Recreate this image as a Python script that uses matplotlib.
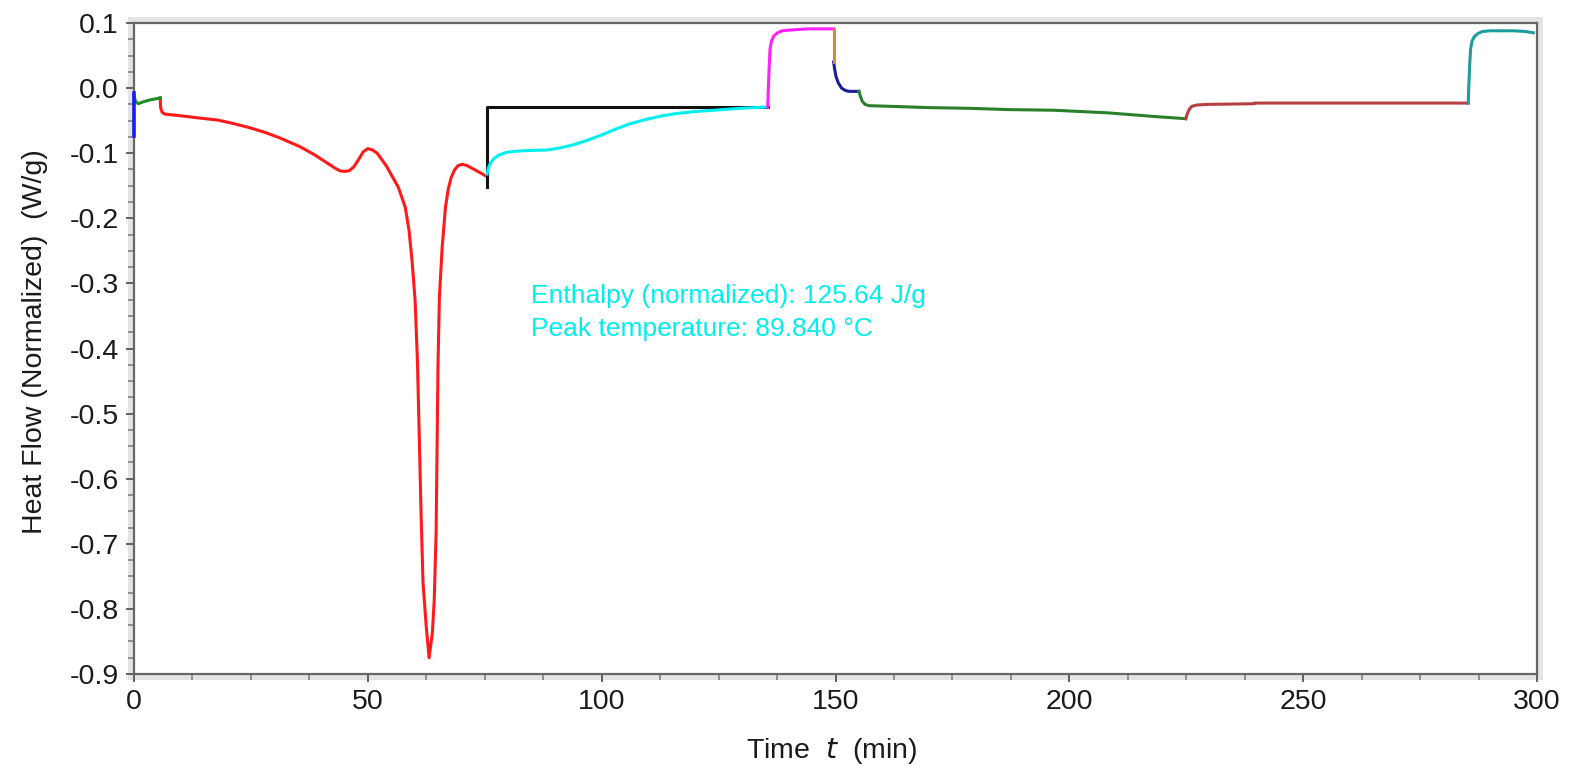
import matplotlib
matplotlib.use("Agg")
import matplotlib.pyplot as plt
from matplotlib.patches import Rectangle
from matplotlib.ticker import MultipleLocator, FixedLocator

plt.rcParams['font.family'] = ['Liberation Sans', 'DejaVu Sans']

# ---- data (time in min, heat flow in W/g) ----
blue_t = [0.0, 0.0]
blue_y = [-0.0075, -0.0736]

green1_t = [0.0, 0.3, 0.9, 2.0, 3.5, 5.0, 5.6]
green1_y = [-0.011, -0.020, -0.024, -0.021, -0.018, -0.016, -0.015]

red_t = [5.6, 5.7, 6.0, 6.6, 8.0, 10.5, 14.0, 17.8, 21.0, 24.8, 28.0, 31.0, 35.5, 38.5,
         41.3, 43.0, 44.0, 45.0, 46.0, 47.0, 48.0, 49.0, 50.0, 51.0, 52.0, 53.0, 54.0,
         55.0, 56.5, 58.0, 58.8, 59.5, 60.1, 60.6, 61.0, 61.4, 61.8, 62.5, 63.1, 63.8,
         64.2, 64.6, 64.8, 65.0, 65.3, 65.9, 66.6, 67.2, 67.8, 68.5, 69.3, 70.2, 71.2,
         72.5, 74.0, 75.5]
red_y = [-0.015, -0.030, -0.037, -0.040, -0.041, -0.043, -0.046, -0.049, -0.054, -0.061,
         -0.068, -0.076, -0.090, -0.102, -0.115, -0.123, -0.127, -0.128, -0.127, -0.121,
         -0.110, -0.098, -0.093, -0.095, -0.100, -0.110, -0.120, -0.133, -0.152, -0.183,
         -0.218, -0.269, -0.325, -0.418, -0.536, -0.659, -0.760, -0.828, -0.875, -0.837,
         -0.786, -0.683, -0.556, -0.428, -0.321, -0.244, -0.183, -0.155, -0.138, -0.126,
         -0.119, -0.117, -0.119, -0.124, -0.130, -0.136]

base_t = [75.5, 75.5, 75.5, 135.5]
base_y = [-0.152, -0.136, -0.029, -0.029]

cyan_t = [75.5, 75.8, 76.3, 77.0, 78.0, 79.5, 81.5, 84.0, 88.4, 91.0, 94.0, 97.0, 100.0,
          103.0, 106.0, 109.0, 112.6, 116.0, 120.0, 124.0, 129.7, 135.5]
cyan_y = [-0.132, -0.122, -0.114, -0.108, -0.103, -0.099, -0.097, -0.096, -0.095, -0.092,
          -0.087, -0.080, -0.072, -0.063, -0.055, -0.049, -0.043, -0.039, -0.036, -0.034,
          -0.031, -0.029]

magenta_t = [135.5, 135.6, 135.8, 136.0, 136.3, 136.8, 137.6, 138.6, 140.0, 144.0, 149.6]
magenta_y = [-0.029, -0.010, 0.030, 0.060, 0.072, 0.080, 0.085, 0.088, 0.089, 0.091, 0.091]

orange_t = [149.6, 149.6]
orange_y = [0.091, 0.040]

navy_t = [149.6, 149.8, 150.1, 150.6, 151.3, 152.2, 153.0, 155.0]
navy_y = [0.040, 0.030, 0.018, 0.008, 0.000, -0.004, -0.005, -0.005]

green2_t = [155.0, 155.3, 155.7, 156.3, 157.2, 161.8, 170.0, 178.3, 187.0, 196.7, 208.2,
            218.9, 224.9]
green2_y = [-0.005, -0.012, -0.020, -0.025, -0.027, -0.028, -0.030, -0.031, -0.033, -0.034,
            -0.038, -0.044, -0.047]

brown_t = [224.9, 225.2, 225.6, 226.2, 227.2, 229.6, 239.5, 239.6, 260.0, 285.3]
brown_y = [-0.047, -0.040, -0.033, -0.028, -0.026, -0.025, -0.024, -0.023, -0.023, -0.023]

teal_t = [285.3, 285.4, 285.6, 285.8, 286.1, 286.6, 287.4, 288.4, 290.0, 295.0, 297.5, 299.2]
teal_y = [-0.023, 0.000, 0.035, 0.060, 0.072, 0.079, 0.084, 0.087, 0.088, 0.088, 0.087, 0.085]

annot_lines = ["Enthalpy (normalized): 125.64 J/g", "Peak temperature: 89.840 \u00b0C"]
x_ticks = [0, 50, 100, 150, 200, 250, 300]
y_ticks = [0.1, 0.0, -0.1, -0.2, -0.3, -0.4, -0.5, -0.6, -0.7, -0.8, -0.9]
y_ticklabels = ["0.1", "0.0", "-0.1", "-0.2", "-0.3", "-0.4", "-0.5", "-0.6", "-0.7", "-0.8", "-0.9"]

# ---- figure ----
W, H = 1576, 766
fig = plt.figure(figsize=(W / 100, H / 100), dpi=100)
left, right = 134 / W, 1537 / W
bottom, top = 1 - 674 / H, 1 - 23 / H
ax = fig.add_axes([left, bottom, right - left, top - bottom])
ax.set_zorder(2)

# light gray frame shadow
pad_x, pad_y = 6 / W, 6 / H
shadow = Rectangle((left - pad_x, bottom - pad_y), (right - left) + 2 * pad_x,
                   (top - bottom) + 2 * pad_y, transform=fig.transFigure,
                   facecolor='#e4e4e4', edgecolor='none', zorder=-5)
fig.patches.append(shadow)
ax.set_facecolor('white')

lw = 2.2
ax.plot(red_t, red_y, color='#ff1a1a', lw=lw, zorder=3)
ax.plot(green1_t, green1_y, color='#1f8f1f', lw=lw, zorder=4, clip_on=False)
ax.plot(blue_t, blue_y, color='#1a1aff', lw=lw + 0.4, zorder=5, clip_on=False)
ax.plot(base_t, base_y, color='#111111', lw=lw, zorder=3)
ax.plot(cyan_t, cyan_y, color='#00f0f0', lw=lw, zorder=3)
ax.plot(magenta_t, magenta_y, color='#ff20ff', lw=lw, zorder=3)
ax.plot(orange_t, orange_y, color='#d68a3c', lw=lw, zorder=4)
ax.plot(navy_t, navy_y, color='#1c1c9a', lw=lw, zorder=3)
ax.plot(green2_t, green2_y, color='#2a7f2a', lw=lw, zorder=3)
ax.plot(brown_t, brown_y, color='#b5403f', lw=lw, zorder=3)
ax.plot(teal_t, teal_y, color='#1c9c9c', lw=lw, zorder=3)

ax.text(0.283, 0.555, annot_lines[0] + "\n" + annot_lines[1], transform=ax.transAxes,
        color='#00eeee', fontsize=19, va='center', ha='left', linespacing=1.45)

ax.set_xlim(0, 300)
ax.set_ylim(-0.9, 0.1)
ax.xaxis.set_major_locator(FixedLocator(x_ticks))
ax.xaxis.set_minor_locator(MultipleLocator(12.5))
ax.yaxis.set_major_locator(FixedLocator(y_ticks))
ax.set_yticklabels(y_ticklabels)
ax.yaxis.set_minor_locator(MultipleLocator(0.025))

for s in ax.spines.values():
    s.set_color('#666666')
    s.set_linewidth(1.6)

ax.tick_params(which='major', direction='out', length=6, width=1.3, color='#555555',
               labelsize=20.5, labelcolor='#1a1a1a', pad=5)
ax.tick_params(which='minor', direction='out', length=4, width=1.1, color='#777777')

ax.set_xlabel("Time  $\\it{t}$  (min)", fontsize=20.5, color='#1a1a1a')
ax.set_ylabel("Heat Flow (Normalized)  (W/g)", fontsize=20.5, color='#1a1a1a')
ax.xaxis.set_label_coords(0.4975, -0.095)
ax.yaxis.set_label_coords(-0.061, 0.51)

fig.savefig("out.png", dpi=100)
